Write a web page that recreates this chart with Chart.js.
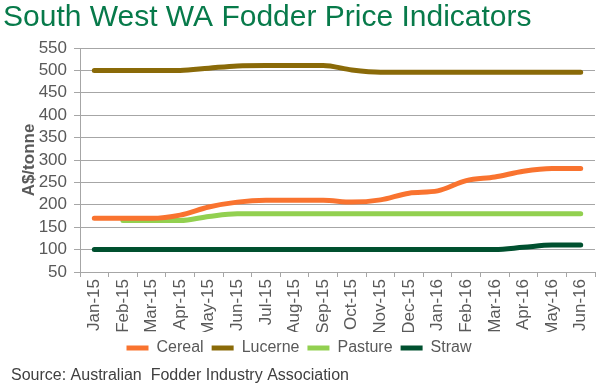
<!DOCTYPE html>
<html>
<head>
<meta charset="utf-8">
<script src="https://cdn.jsdelivr.net/npm/chart.js@4"></script>
<style>
  html, body { margin: 0; padding: 0; background: #fff; }
  #wrap { width: 614px; height: 392px; }
</style>
</head>
<body>
<div id="wrap"><canvas id="chart"></canvas></div>
<script>
// Data
const months = ['Jan-15', 'Feb-15', 'Mar-15', 'Apr-15', 'May-15', 'Jun-15', 'Jul-15', 'Aug-15', 'Sep-15',
    'Oct-15', 'Nov-15', 'Dec-15', 'Jan-16', 'Feb-16', 'Mar-16', 'Apr-16', 'May-16', 'Jun-16'];
const cereal = [170, 170, 170, 177, 195, 206, 210, 210, 210, 206, 211, 226, 231, 254, 262, 275, 281, 281];
const lucerne = [500, 500, 500, 500, 505, 510, 511, 511, 511, 501, 496, 496, 496, 496, 496, 496, 496, 496];
const pasture = [null, 165, 165, 165, 174, 180, 180, 180, 180, 180, 180, 180, 180, 180, 180, 180, 180, 180];
const straw = [100, 100, 100, 100, 100, 100, 100, 100, 100, 100, 100, 100, 100, 100, 100, 105, 110, 110];
const sourceNote = 'Source: Australian  Fodder Industry Association';

const axisGrey = '#A6A6A6';
const textGrey = '#595959';
const fontFamily = '"Liberation Sans", Arial, sans-serif';

function series(label, data, color) {
    return {
        label: label,
        data: data,
        borderColor: color,
        backgroundColor: color,
        borderWidth: 5,
        borderCapStyle: 'round',
        borderJoinStyle: 'round',
        pointRadius: 0,
        pointHoverRadius: 0,
        cubicInterpolationMode: 'monotone',
        spanGaps: false,
        fill: false
    };
}

// source line drawn under the legend
const sourcePlugin = {
    id: 'sourceNote',
    afterDraw(chart) {
        const ctx = chart.ctx;
        ctx.save();
        ctx.font = '16px ' + fontFamily;
        ctx.fillStyle = '#404040';
        ctx.textBaseline = 'middle';
        ctx.textAlign = 'left';
        ctx.fillText(sourceNote, 11, 376);
        ctx.restore();
    }
};

new Chart(document.getElementById('chart'), {
    type: 'line',
    data: {
        labels: months,
        datasets: [
            series('Cereal', cereal, '#F9732F'),
            series('Lucerne', lucerne, '#8A6A08'),
            series('Pasture', pasture, '#92D050'),
            series('Straw', straw, '#00502F')
        ]
    },
    plugins: [sourcePlugin],
    options: {
        responsive: true,
        maintainAspectRatio: false,
        animation: false,
        layout: { padding: { left: 3, right: 19, top: 0, bottom: 26 } },
        plugins: {
            title: {
                display: true,
                text: 'South West WA Fodder Price Indicators',
                align: 'start',
                color: '#077A4A',
                font: { family: fontFamily, size: 30, weight: 'normal' },
                padding: { top: 0, bottom: 12 }
            },
            legend: {
                position: 'bottom',
                labels: {
                    usePointStyle: true,
                    pointStyle: 'line',
                    pointStyleWidth: 22,
                    boxHeight: 5,
                    color: textGrey,
                    font: { family: fontFamily, size: 16 },
                    padding: 8
                }
            },
            tooltip: { enabled: false }
        },
        scales: {
            x: {
                offset: true,
                afterFit: function (scale) { scale.height = 60; },
                grid: {
                    offset: true,
                    drawOnChartArea: false,
                    drawTicks: true,
                    tickLength: 5,
                    color: axisGrey
                },
                border: { color: axisGrey },
                ticks: {
                    autoSkip: false,
                    maxRotation: 90,
                    minRotation: 90,
                    padding: 2,
                    color: textGrey,
                    font: { family: fontFamily, size: 17 }
                }
            },
            y: {
                min: 50,
                max: 550,
                afterFit: function (scale) { scale.width = 77; },
                grid: {
                    color: axisGrey,
                    tickLength: 6
                },
                border: { color: axisGrey },
                ticks: {
                    autoSkip: false,
                    stepSize: 50,
                    padding: 7,
                    color: textGrey,
                    font: { family: fontFamily, size: 17 }
                },
                title: {
                    display: true,
                    text: 'A$/tonne',
                    color: textGrey,
                    font: { family: fontFamily, size: 17, weight: 'bold' },
                    padding: { top: 16, bottom: 0 }
                }
            }
        }
    }
});
</script>
</body>
</html>
